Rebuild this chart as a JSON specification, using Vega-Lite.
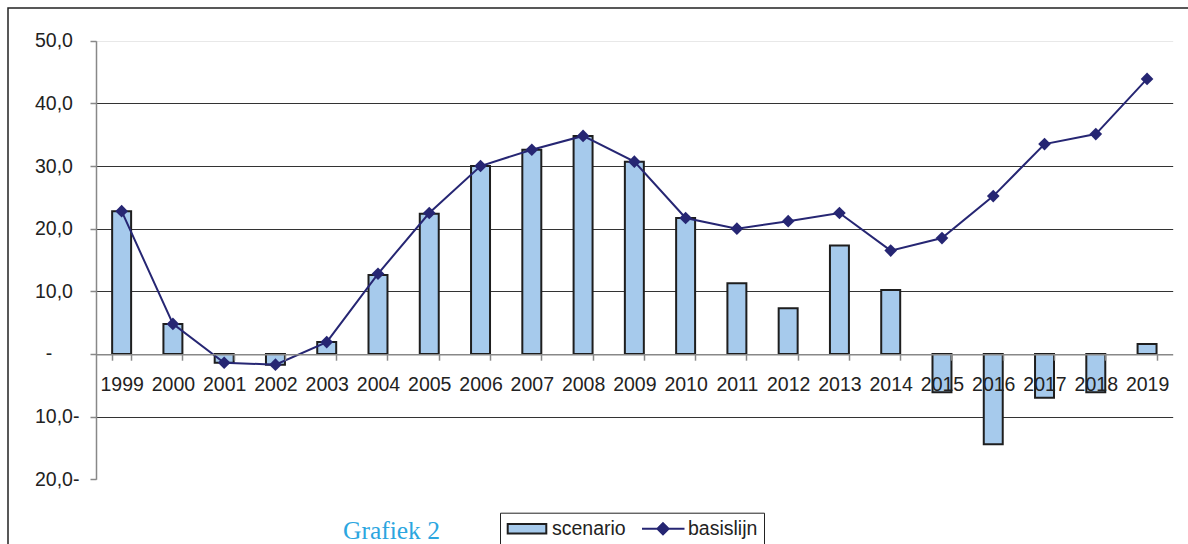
{
  "$schema": "https://vega.github.io/schema/vega-lite/v6.json",
  "width": 1184,
  "height": 546,
  "autosize": {"type": "none"},
  "padding": {"left": 8, "top": 8, "right": -4, "bottom": -10},
  "background": "white",
  "config": {
    "view": {"stroke": "#222222", "strokeWidth": 1.5},
    "font": "Liberation Sans"
  },
  "title": {
    "text": "Grafiek 2",
    "orient": "bottom",
    "anchor": "start",
    "frame": "group",
    "offset": -35,
    "dx": 335,
    "font": "Liberation Serif",
    "fontSize": 25.5,
    "fontWeight": "normal",
    "color": "#2BA6DF"
  },
  "data": {
    "values": [
      {"year": "1999", "scenario": 22.8, "basislijn": 22.8},
      {"year": "2000", "scenario": 4.8, "basislijn": 4.8},
      {"year": "2001", "scenario": -1.4, "basislijn": -1.4},
      {"year": "2002", "scenario": -1.7, "basislijn": -1.7},
      {"year": "2003", "scenario": 1.9, "basislijn": 1.9},
      {"year": "2004", "scenario": 12.6, "basislijn": 12.8},
      {"year": "2005", "scenario": 22.4, "basislijn": 22.5},
      {"year": "2006", "scenario": 30.0, "basislijn": 30.0},
      {"year": "2007", "scenario": 32.6, "basislijn": 32.6},
      {"year": "2008", "scenario": 34.8, "basislijn": 34.8},
      {"year": "2009", "scenario": 30.7, "basislijn": 30.7},
      {"year": "2010", "scenario": 21.7, "basislijn": 21.7},
      {"year": "2011", "scenario": 11.3, "basislijn": 20.0},
      {"year": "2012", "scenario": 7.3, "basislijn": 21.2},
      {"year": "2013", "scenario": 17.3, "basislijn": 22.5},
      {"year": "2014", "scenario": 10.2, "basislijn": 16.5},
      {"year": "2015", "scenario": -6.1, "basislijn": 18.5},
      {"year": "2016", "scenario": -14.4, "basislijn": 25.2},
      {"year": "2017", "scenario": -7.0, "basislijn": 33.5},
      {"year": "2018", "scenario": -6.1, "basislijn": 35.1},
      {"year": "2019", "scenario": 1.6, "basislijn": 43.9}
    ]
  },
  "encoding": {
    "x": {
      "field": "year",
      "type": "ordinal",
      "scale": {"range": [88, 1164.7], "paddingInner": 0.63, "paddingOuter": 0.315},
      "axis": {
        "title": null,
        "orient": "bottom",
        "offset": -199.8,
        "labelAngle": 0,
        "labelFont": "Liberation Sans",
        "labelFontSize": 19.5,
        "labelColor": "#222222",
        "labelPadding": 14.8,
        "labelOverlap": false,
        "tickSize": 6,
        "tickColor": "#888888",
        "tickWidth": 1.5,
        "tickBand": "extent",
        "domainColor": "#888888",
        "domainWidth": 1.5,
        "grid": false,
        "zindex": 1
      }
    }
  },
  "layer": [
    {
      "mark": {"type": "bar", "fill": "#A6CAEC", "stroke": "#1e1e1e", "strokeWidth": 2},
      "encoding": {
        "y": {
          "field": "scenario",
          "type": "quantitative",
          "scale": {"domain": [-20, 50], "range": [471.3, 32.7], "nice": false, "zero": false},
          "axis": {
            "title": null,
            "orient": "left",
            "offset": -88,
            "values": [-20, -10, 0, 10, 20, 30, 40, 50],
            "labelExpr": "datum.value == 0 ? '\u200b\u00a0\u00a0-' : replace(format(abs(datum.value), '.1f'), '.', ',') + (datum.value < 0 ? '-' : '')",
            "labelAlign": "left",
            "labelFont": "Liberation Sans",
            "labelFontSize": 19.5,
            "labelColor": "#222222",
            "labelPadding": 55.5,
            "tickSize": 6,
            "tickColor": "#888888",
            "tickWidth": 1.5,
            "domainColor": "#888888",
            "domainWidth": 1.5,
            "grid": true,
            "gridColor": {"condition": {"test": "datum.value == 50", "value": "#e8e8e8"}, "value": "#333333"},
            "gridOpacity": {"condition": {"test": "datum.value == 0 || datum.value == -20", "value": 0}, "value": 1},
            "gridWidth": 1,
            "zindex": 0
          }
        }
      }
    },
    {
      "mark": {"type": "line", "color": "#262673", "strokeWidth": 2},
      "encoding": {
        "y": {"field": "basislijn", "type": "quantitative"}
      }
    },
    {
      "mark": {"type": "point", "shape": "diamond", "filled": true, "color": "#262673", "size": 160, "opacity": 1},
      "encoding": {
        "y": {"field": "basislijn", "type": "quantitative"}
      }
    },
    {
      "transform": [
        {"fold": ["scenario", "basislijn"], "as": ["series", "v"]},
        {"filter": "datum.v > 1000"}
      ],
      "mark": {"type": "point", "filled": true, "size": 1600, "strokeWidth": 2, "opacity": 1},
      "encoding": {
        "y": {"field": "v", "type": "quantitative"},
        "color": {
          "field": "series",
          "type": "nominal",
          "scale": {"domain": ["scenario", "basislijn"], "range": ["#A6CAEC", "#262673"]},
          "legend": {
            "title": null,
            "orient": "none",
            "legendX": 492,
            "legendY": 504.7,
            "direction": "horizontal",
            "fillColor": "white",
            "strokeColor": "#222222",
            "padding": 6,
            "labelFont": "Liberation Sans",
            "labelFontSize": 19.5,
            "labelColor": "#222222",
            "symbolSize": 1600,
            "symbolStrokeWidth": 2,
            "symbolOpacity": 1,
            "labelOffset": 4,
            "columnPadding": 16,
            "clipHeight": 20
          }
        },
        "shape": {
          "field": "series",
          "type": "nominal",
          "scale": {"domain": ["scenario", "basislijn"], "range": ["M-0.965,-0.235H0.965V0.235H-0.965Z", "M-1.075,0H1.075M0,-0.28L0.28,0L0,0.28L-0.28,0Z"]}
        },
        "stroke": {
          "field": "series",
          "type": "nominal",
          "scale": {"domain": ["scenario", "basislijn"], "range": ["#1e1e1e", "#262673"]}
        }
      }
    }
  ]
}
